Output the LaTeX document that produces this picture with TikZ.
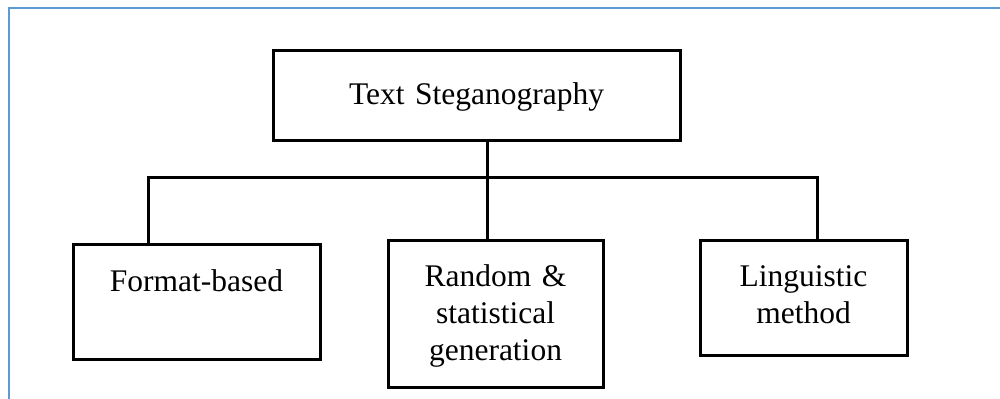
\documentclass[tikz,border=0pt]{standalone}
\usepackage{fontspec}
\setmainfont{Liberation Serif}
\definecolor{framebl}{HTML}{5B9BD5}
\begin{document}
\begin{tikzpicture}[line width=1.5pt, font=\fontsize{15.75}{18.5}\selectfont,
  catbox/.style={draw, inner sep=0pt, align=center, anchor=north}]
  \useasboundingbox (0,0) rectangle (500pt,-199.5pt);
  \draw[framebl, line width=1.3pt] (4.5pt,-199.5pt) -- (4.5pt,-4pt) -- (500pt,-4pt);
  \coordinate (T) at (238.25pt,-24.5pt); \coordinate (F) at (98.25pt,-121.5pt);
  \coordinate (R) at (247.75pt,-119.5pt); \coordinate (L) at (401.75pt,-119.5pt);
  \coordinate (hub) at (243.5pt,-89pt); \coordinate (busl) at (74pt,-89pt); \coordinate (busr) at (408.5pt,-89pt);
  \node[catbox, text width=203.5pt, text height=27pt, text depth=18pt] (root) at (T) {Text Steganography};
  \node[catbox, text width=123.5pt, text height=23.5pt, text depth=34pt] (fmt) at (F) {Format-based};
  \node[catbox, text width=107.5pt, text height=23pt, text depth=50.5pt] (rand) at (R) {Random \&\\statistical\\generation};
  \node[catbox, text width=103.5pt, text height=23pt, text depth=34.5pt] (ling) at (L) {Linguistic\\method};
  \draw (root.south -| hub) -- (rand.north -| hub);
  \draw (fmt.north -| busl) -- (busl) -- (busr) -- (ling.north -| busr);
\end{tikzpicture}
\end{document}
